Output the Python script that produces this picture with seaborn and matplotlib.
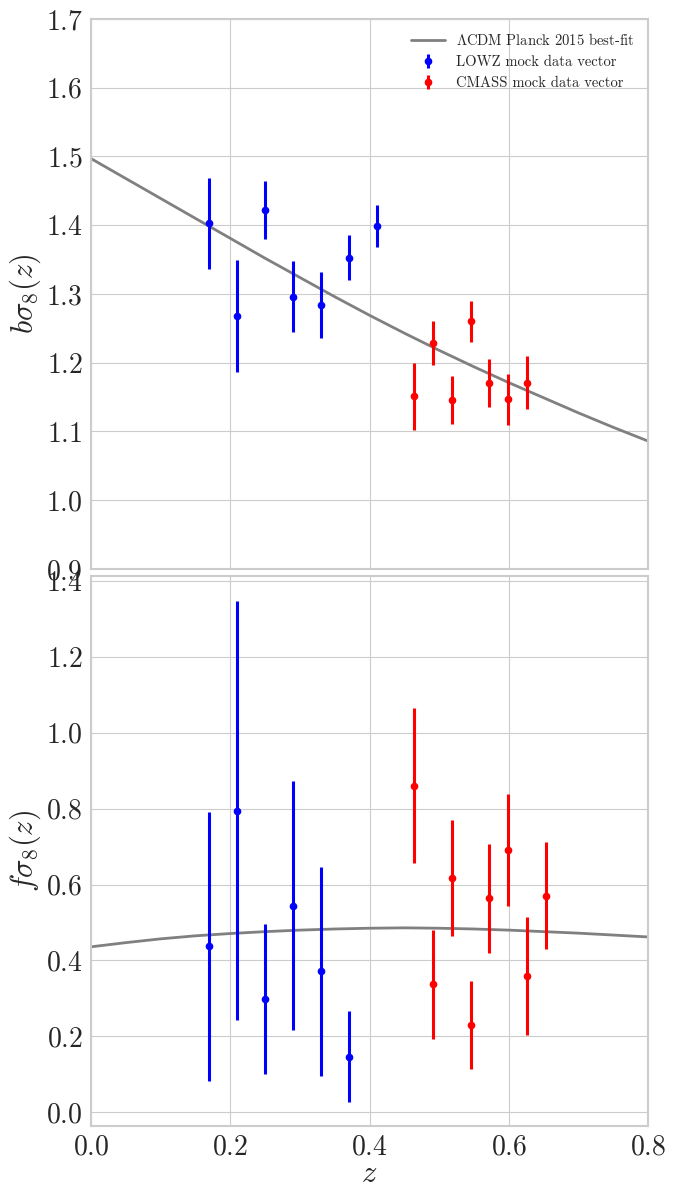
import numpy as np
import pandas as pd
import matplotlib
matplotlib.use("Agg")
import matplotlib.pyplot as plt
import seaborn as sns

# ---- data ----
z_model = [0.0, 0.05, 0.1, 0.15, 0.2, 0.25, 0.3, 0.35, 0.4,
           0.45, 0.5, 0.55, 0.6, 0.65, 0.7, 0.75, 0.8]
bs8_model = [1.497, 1.468, 1.439, 1.410, 1.381, 1.352, 1.324, 1.296, 1.269,
             1.243, 1.218, 1.194, 1.171, 1.149, 1.127, 1.106, 1.086]
fs8_model = [0.436, 0.447, 0.457, 0.465, 0.471, 0.476, 0.480, 0.483, 0.485,
             0.486, 0.485, 0.483, 0.480, 0.476, 0.472, 0.467, 0.462]

z_lowz = [0.17, 0.21, 0.25, 0.29, 0.33, 0.37, 0.41]
bs8_lowz = [1.403, 1.268, 1.422, 1.296, 1.284, 1.353, 1.399]
bs8_lowz_err = [0.066, 0.082, 0.042, 0.052, 0.048, 0.033, 0.031]

z_cmass_b = [0.464, 0.491, 0.518, 0.545, 0.572, 0.599, 0.626]
bs8_cmass = [1.151, 1.229, 1.146, 1.260, 1.171, 1.147, 1.171]
bs8_cmass_err = [0.049, 0.032, 0.035, 0.030, 0.035, 0.037, 0.039]

z_lowz_f = [0.17, 0.21, 0.25, 0.29, 0.33, 0.37]
fs8_lowz = [0.437, 0.795, 0.299, 0.544, 0.371, 0.147]
fs8_lowz_err = [0.355, 0.552, 0.198, 0.328, 0.274, 0.121]

z_cmass_f = [0.464, 0.491, 0.518, 0.545, 0.572, 0.599, 0.626, 0.653]
fs8_cmass = [0.861, 0.337, 0.618, 0.229, 0.564, 0.691, 0.359, 0.571]
fs8_cmass_err = [0.204, 0.144, 0.153, 0.116, 0.144, 0.147, 0.155, 0.140]

sns.set_style("whitegrid")
plt.rcParams["font.family"] = "serif"
plt.rcParams["font.serif"] = ["cmr10", "DejaVu Serif"]
plt.rcParams["mathtext.fontset"] = "cm"
plt.rcParams["axes.formatter.use_mathtext"] = True
plt.rcParams["axes.unicode_minus"] = False

fig, (ax1, ax2) = plt.subplots(2, 1, figsize=(6.94, 11.86), dpi=100, sharex=True)
fig.subplots_adjust(left=0.131, right=0.934, top=0.984, bottom=0.0506, hspace=0.0127)

model = pd.DataFrame({"z": z_model, "bs8": bs8_model, "fs8": fs8_model})

sns.lineplot(data=model, x="z", y="bs8", ax=ax1, color="gray", lw=2,
             label=r"$\Lambda$CDM Planck 2015 best-fit")
ax1.errorbar(z_lowz, bs8_lowz, yerr=bs8_lowz_err, fmt="o", color="blue",
             ms=4.5, elinewidth=2.2, capsize=0, label="LOWZ mock data vector")
ax1.errorbar(z_cmass_b, bs8_cmass, yerr=bs8_cmass_err, fmt="o", color="red",
             ms=4.5, elinewidth=2.2, capsize=0, label="CMASS mock data vector")

sns.lineplot(data=model, x="z", y="fs8", ax=ax2, color="gray", lw=2)
ax2.errorbar(z_lowz_f, fs8_lowz, yerr=fs8_lowz_err, fmt="o", color="blue",
             ms=4.5, elinewidth=2.2, capsize=0)
ax2.errorbar(z_cmass_f, fs8_cmass, yerr=fs8_cmass_err, fmt="o", color="red",
             ms=4.5, elinewidth=2.2, capsize=0)

ax1.set_xlim(0, 0.8)
ax1.set_ylim(0.9, 1.7)
ax1.set_yticks(np.arange(0.9, 1.71, 0.1))
ax2.set_ylim(-0.036, 1.413)
ax2.set_yticks(np.arange(0.0, 1.41, 0.2))
ax2.set_xticks(np.arange(0.0, 0.81, 0.2))

for ax in (ax1, ax2):
    ax.tick_params(labelsize=20, length=0, pad=6)
    for s in ax.spines.values():
        s.set_color("#cccccc")
        s.set_linewidth(1.5)

ax1.set_xlabel("")
ax1.set_ylabel(r"$b\sigma_8(z)$", fontsize=22, labelpad=2)
ax2.set_ylabel(r"$f\sigma_8(z)$", fontsize=22, labelpad=2)
ax2.set_xlabel(r"$z$", fontsize=22, labelpad=0)

ax1.legend(loc="upper right", frameon=False, fontsize=10.5, handlelength=2.3)

fig.savefig("out.png", dpi=100)
